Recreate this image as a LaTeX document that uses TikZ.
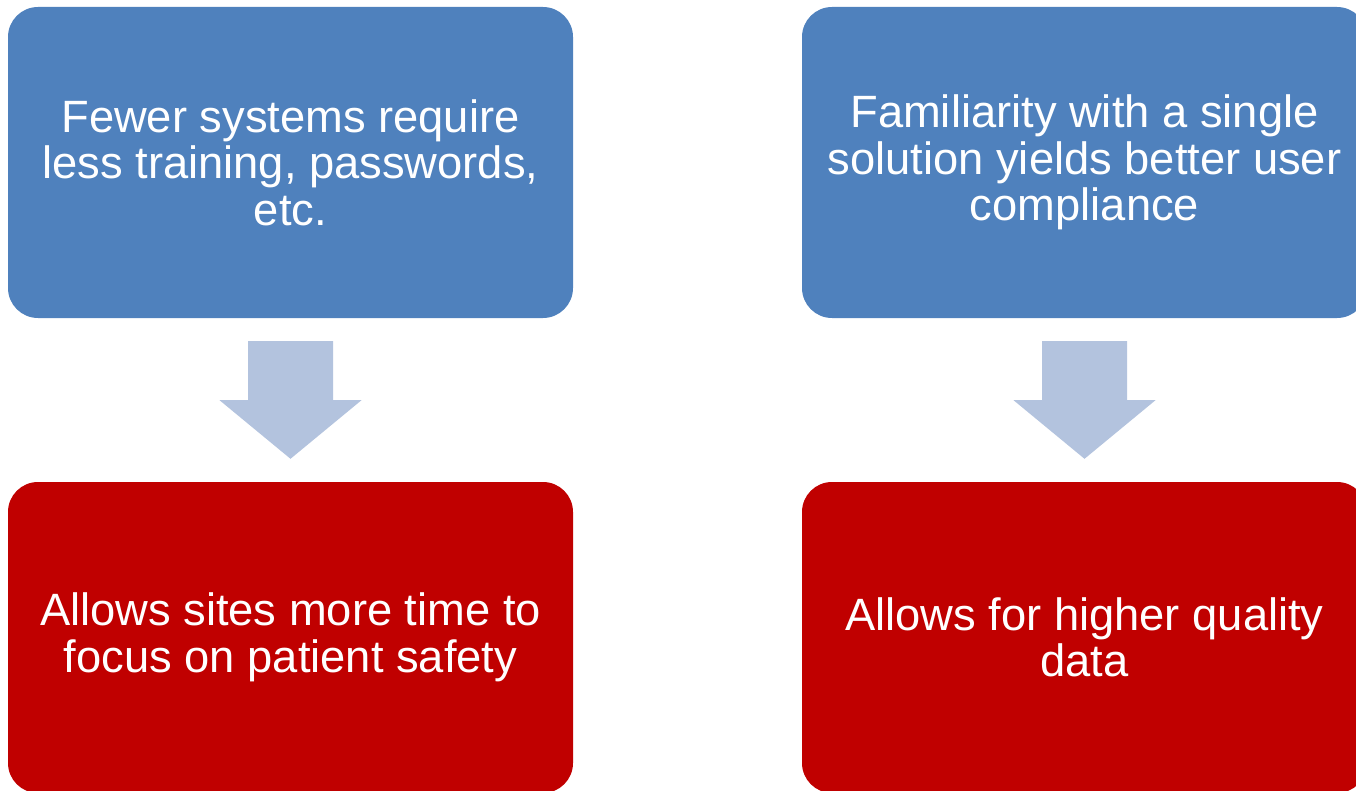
\documentclass[tikz,border=0pt]{standalone}
\usepackage{fontspec}
\setmainfont{Liberation Sans}
\usetikzlibrary{calc}
\definecolor{boxblue}{HTML}{4F81BD}
\definecolor{boxred}{HTML}{C00000}
\definecolor{arrowblue}{HTML}{B3C3DE}
\tikzset{
  card/.style={rounded corners=30pt, minimum width=565pt, minimum height=311pt,
    inner sep=0pt, align=center, text=white,
    font=\fontsize{45.3}{46.5}\selectfont},
  cause/.style={card, fill=boxblue},
  effect/.style={card, fill=boxred},
  blockarrow/.style={fill=arrowblue}
}
\begin{document}
\begin{tikzpicture}[x=1pt,y=-1pt]
\useasboundingbox (0,0) rectangle (1356,791);
\clip (0,0) rectangle (1356,791);
\node[cause]  (c1) at (290.5,162.5) {Fewer systems require\\less training, passwords,\\etc.};
\node[cause]  (c2) at (1084.5,162.5) {Familiarity with a single\\solution yields better user\\compliance};
\node[effect] (e1) at (290.5,637.5) {Allows sites more time to\\focus on patient safety};
\node[effect] (e2) at (1084.5,637.5) {Allows for higher quality\\data};
% block arrows leading from each cause to its effect
\fill[blockarrow] ($(c1.south)+(-42.5,23)$) -- ++(85,0) -- ++(0,59) -- ++(28.5,0)
  -- ($(e1.north)+(0,-23)$) -- ($(c1.south)+(-71,82)$) -- ++(28.5,0) -- cycle;
\fill[blockarrow] ($(c2.south)+(-42.5,23)$) -- ++(85,0) -- ++(0,59) -- ++(28.5,0)
  -- ($(e2.north)+(0,-23)$) -- ($(c2.south)+(-71,82)$) -- ++(28.5,0) -- cycle;
\end{tikzpicture}
\end{document}
